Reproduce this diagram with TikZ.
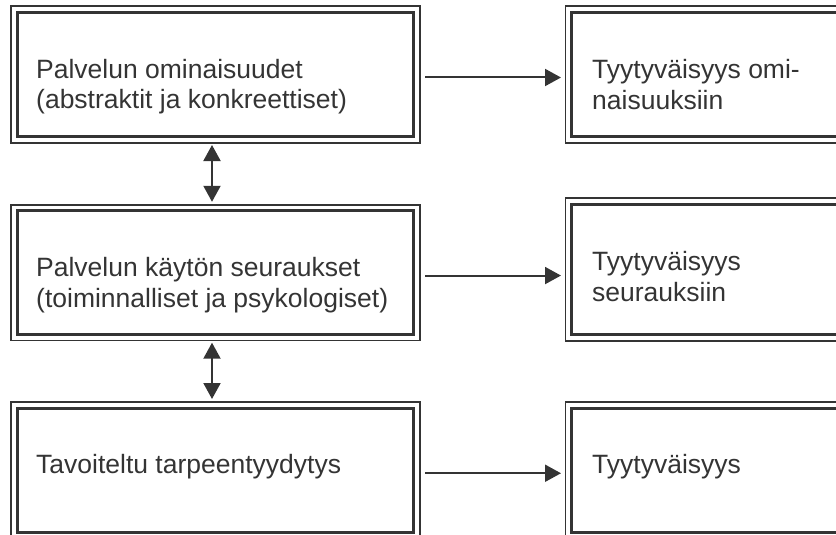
\documentclass[tikz,border=0pt]{standalone}
\usepackage{fontspec}
\setmainfont{Liberation Sans}
\usetikzlibrary{arrows.meta}
\definecolor{ink}{RGB}{52,52,52}
\tikzset{
  box/.style={draw=ink, line width=3pt, outer sep=0pt, inner sep=0pt,
    anchor=north west, minimum width=396.4pt},
  rim/.style={draw=ink, line width=1.8pt},
  txt/.style={anchor=base west, align=left, inner sep=0pt, text=ink,
    font=\fontsize{26.5}{31}\selectfont},
  conn/.style={draw=ink, line width=2pt, -{Triangle[length=16pt,width=17pt]}},
  both/.style={draw=ink, line width=2pt,
    {Triangle[length=16pt,width=17pt]}-{Triangle[length=16pt,width=17pt]}},
}
\begin{document}
\begin{tikzpicture}[x=1pt,y=-1pt]
\useasboundingbox (0,0) rectangle (836,535);
\clip (0,0) rectangle (836,535);

% left column
\node[box, minimum height=124pt]   (a1) at (17.3,12.5)  {};
\node[box, minimum height=123.5pt] (a2) at (17.3,210.8) {};
\node[box, minimum height=124.5pt] (a3) at (17.3,408)   {};
% right column
\node[box, minimum height=124pt]   (c1) at (571.7,12.5)  {};
\node[box, minimum height=130.4pt] (c2) at (571.7,204.3) {};
\node[box, minimum height=124.5pt] (c3) at (571.7,408)   {};

% thin outer frame around every box
\foreach \n in {a1,a2,a3,c1,c2,c3}
  \draw[rim] ([shift={(-6.2pt,6.2pt)}]\n.north west) rectangle ([shift={(6.2pt,-6.2pt)}]\n.south east);

% labels (base anchor sits on the last line)
\node[txt] (ta1) at (36,109) {Palvelun ominaisuudet\\(abstraktit ja konkreettiset)};
\node[txt] (ta2) at (36,307) {Palvelun käytön seuraukset\\(toiminnalliset ja psykologiset)};
\node[txt] (ta3) at (36,473) {Tavoiteltu tarpeentyydytys};
\node[txt] (tc1) at (592,110) {Tyytyväisyys omi-\\naisuuksiin};
\node[txt] (tc2) at (592,301) {Tyytyväisyys\\seurauksiin};
\node[txt] (tc3) at (592,473) {Tyytyväisyys};

% horizontal arrows
\foreach \r in {1,2,3}
  \draw[conn, shorten <=11.3pt, shorten >=10.7pt]
    ([yshift=-3pt]a\r.east) -- ([yshift=-3pt]a\r.east -| c\r.west);

% vertical double arrows
\draw[both, shorten <=8.5pt, shorten >=9pt]
  ([xshift=194.7pt]a1.south west) -- ([xshift=194.7pt]a2.north west);
\draw[both, shorten <=8.4pt, shorten >=9pt]
  ([xshift=194.7pt]a2.south west) -- ([xshift=194.7pt]a3.north west);
\end{tikzpicture}
\end{document}
